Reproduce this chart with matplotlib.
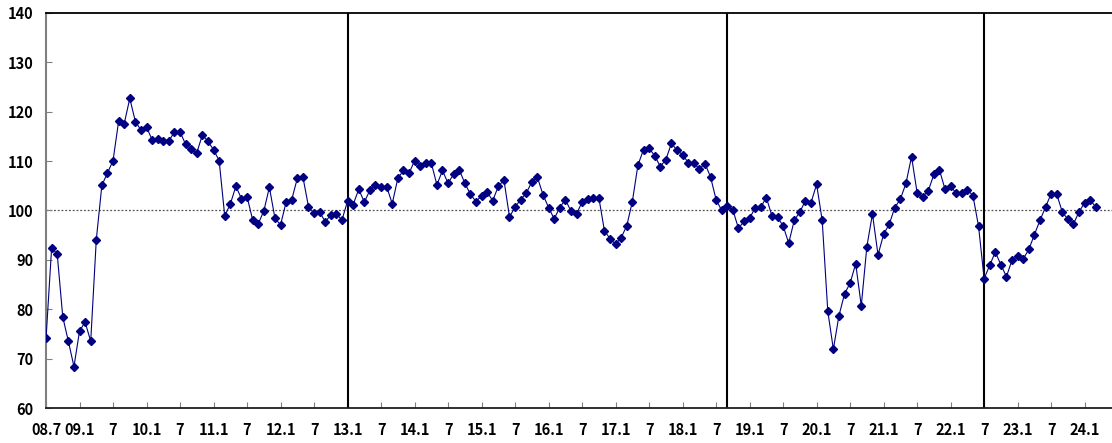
import numpy as np
import matplotlib
matplotlib.use("Agg")
import matplotlib.pyplot as plt

# monthly index, 2008.7 .. 2024.3
start_year, start_month = 2008, 7
values = [
    74.1, 92.4, 91.2, 78.4, 73.5, 68.4, 75.6, 77.4, 73.5, 94.1,
    105.1, 107.6, 110.1, 118.1, 117.6, 122.7, 118.0, 116.3, 116.9, 114.3,
    114.5, 114.1, 114.1, 115.9, 115.9, 113.4, 112.5, 111.7, 115.3, 114.0,
    112.3, 110.1, 98.9, 101.3, 104.9, 102.4, 102.8, 98.1, 97.3, 99.9,
    104.7, 98.4, 97.1, 101.7, 102.2, 106.5, 106.8, 100.8, 99.4, 99.7,
    97.7, 99.1, 99.3, 98.1, 101.9, 101.2, 104.3, 101.7, 104.1, 105.1,
    104.7, 104.8, 101.4, 106.5, 108.1, 107.5, 110.1, 109.1, 109.6, 109.6,
    105.2, 108.1, 105.5, 107.4, 108.3, 105.5, 103.3, 101.8, 103.0, 103.7,
    102.0, 104.9, 106.2, 98.7, 100.7, 102.2, 103.5, 105.8, 106.7, 103.2,
    100.6, 98.3, 100.6, 102.2, 99.9, 99.3, 101.7, 102.4, 102.5, 102.6,
    95.9, 94.3, 93.2, 94.5, 96.9, 101.8, 109.2, 112.3, 112.6, 111.1,
    108.9, 110.3, 113.6, 112.2, 111.3, 109.7, 109.6, 108.4, 109.5, 106.8,
    102.2, 100.0, 101.0, 100.1, 96.4, 97.8, 98.4, 100.6, 100.7, 102.6,
    98.9, 98.6, 96.9, 93.4, 98.0, 99.7, 102.0, 101.6, 105.3, 98.0,
    79.6, 71.9, 78.7, 83.1, 85.3, 89.2, 80.7, 92.7, 99.3, 91.0,
    95.2, 97.2, 100.6, 102.3, 105.5, 110.9, 103.6, 102.8, 104.0, 107.3,
    108.2, 104.3, 104.9, 103.5, 103.6, 104.2, 103.0, 96.8, 86.2, 88.9,
    91.6, 89.0, 86.6, 90.0, 90.7, 90.2, 92.1, 95.1, 98.0, 100.7,
    103.4, 103.3, 99.7, 98.2, 97.3, 99.7, 101.6, 102.1, 100.7,
]

tick_labels = ["08.7", "09.1", "7", "10.1", "7", "11.1", "7", "12.1", "7",
               "13.1", "7", "14.1", "7", "15.1", "7", "16.1", "7", "17.1",
               "7", "18.1", "7", "19.1", "7", "20.1", "7", "21.1", "7",
               "22.1", "7", "23.1", "7", "24.1"]

# vertical marker lines (year, month)
break_dates = [(2013, 1), (2018, 9), (2022, 7)]


def month_index(year, month):
    return (year - start_year) * 12 + (month - start_month)


x = np.arange(len(values))
tick_pos = np.arange(len(tick_labels)) * 6
breaks = [month_index(y, m) for y, m in break_dates]

plt.rcParams["font.family"] = ["Noto Sans CJK KR", "DejaVu Sans"]

fig = plt.figure(figsize=(11.12, 4.43), dpi=100)
ax = fig.add_axes([0.0414, 0.079, 0.9586, 0.8917])

ax.axhline(100, color="#555555", lw=0.9, ls=(0, (1.5, 1.5)), zorder=1)
for b in breaks:
    ax.axvline(b, color="black", lw=1.5, zorder=2)

ax.plot(x, values, color="#000080", lw=0.8, marker="D", ms=4.5,
        mfc="#000080", mec="#000080", zorder=3)

ax.set_xlim(0, 190.9)
ax.set_ylim(60, 140)
ax.set_yticks(np.arange(60, 141, 10))
ax.set_xticks(tick_pos)
ax.set_xticklabels(tick_labels)

ax.spines["right"].set_visible(False)
ax.spines["top"].set_color("black")
ax.spines["top"].set_linewidth(1.3)
ax.spines["left"].set_color("#808080")
ax.spines["left"].set_linewidth(1.5)
ax.spines["bottom"].set_color("#202020")
ax.spines["bottom"].set_linewidth(1.3)

ax.tick_params(axis="x", direction="in", length=4, width=0.8,
               color="#808080", pad=10, labelsize=10.5)
ax.tick_params(axis="y", direction="in", length=4, width=0.8,
               color="#808080", pad=9, labelsize=10.5)
for lab in ax.get_xticklabels() + ax.get_yticklabels():
    lab.set_fontweight("bold")

fig.savefig("out.png", dpi=100)
